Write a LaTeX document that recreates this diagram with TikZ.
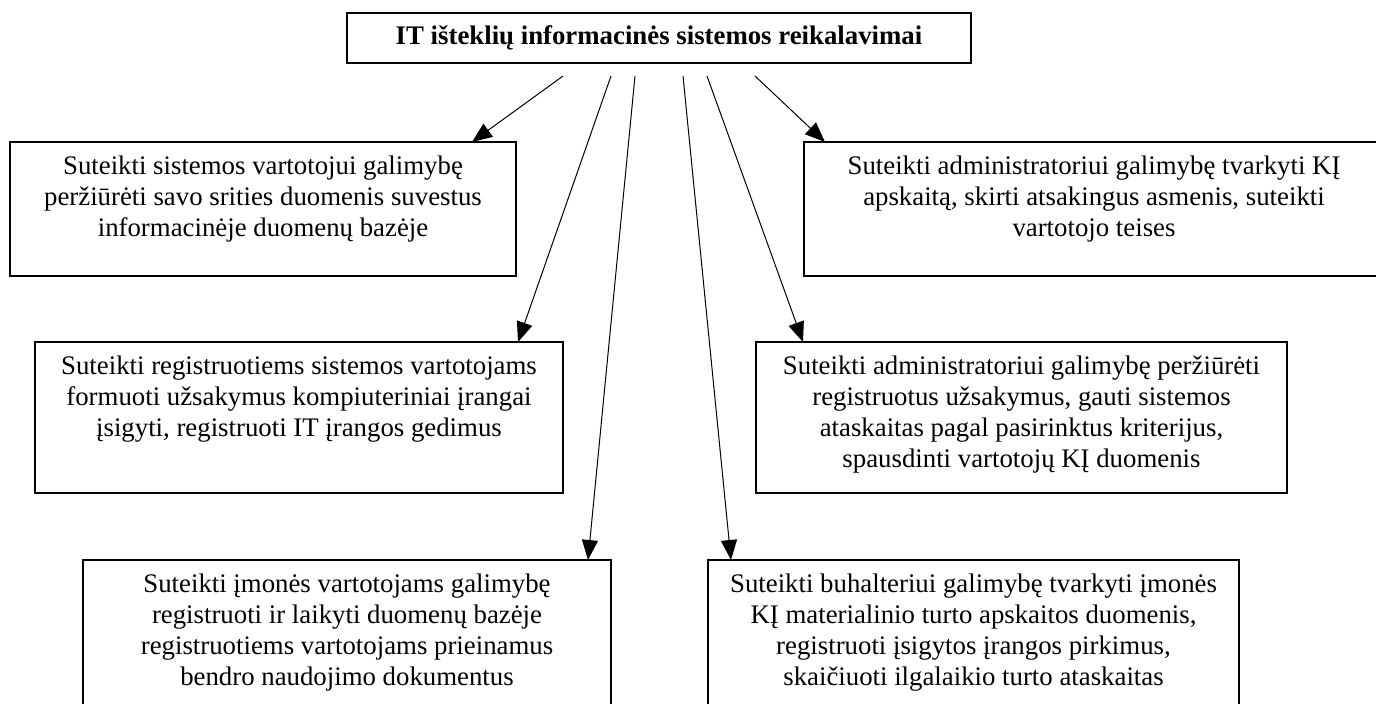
\documentclass[tikz,border=0pt]{standalone}
\usepackage{fontspec}
\setmainfont{Liberation Serif}
\usetikzlibrary{arrows.meta, positioning}

\begin{document}
\begin{tikzpicture}[
    x=0.5pt, y=-0.5pt,
    font=\fontsize{13.4}{15.5}\selectfont,
    req/.style={draw, line width=0.8pt, anchor=north west, outer sep=0pt, inner sep=0pt},
    reqtext/.style={anchor=north, yshift=-6.5pt, align=center, inner sep=0pt},
    goal/.style={draw, line width=1.1pt, align=center, inner sep=0pt, outer sep=0pt,
                 minimum width=312pt, minimum height=25pt, font=\fontsize{13.4}{15.5}\selectfont\bfseries},
    arrow/.style={-{Triangle[length=10pt, width=8pt]}, line width=0.5pt},
]
\path[use as bounding box, clip] (0,0) rectangle (1376,703);

% --- top ---
\node[goal] (title) at (659,38) {IT išteklių informacinės sistemos reikalavimai};

% --- left column ---
\node[req, minimum width=253pt, minimum height=67pt, label={[reqtext]north:{Suteikti sistemos vartotojui galimybę\\
    peržiūrėti savo srities duomenis suvestus\\ informacinėje duomenų bazėje}}] (left1) at (10,142) {};
\node[req, minimum width=264pt, minimum height=75.5pt, label={[reqtext]north:{Suteikti registruotiems sistemos vartotojams\\
    formuoti užsakymus kompiuteriniai įrangai\\ įsigyti, registruoti IT įrangos gedimus}}] (left2) at (35,342) {};
\node[req, minimum width=264pt, minimum height=85pt, label={[reqtext]north:{Suteikti įmonės vartotojams galimybę\\
    registruoti ir laikyti duomenų bazėje\\ registruotiems vartotojams prieinamus\\ bendro naudojimo dokumentus}}] (left3) at (83,560) {};

% --- right column ---
\node[req, minimum width=290pt, minimum height=67pt, label={[reqtext]north:{Suteikti administratoriui galimybę tvarkyti KĮ\\
    apskaitą, skirti atsakingus asmenis, suteikti\\ vartotojo teises}}] (right1) at (804,142) {};
\node[req, minimum width=265.5pt, minimum height=75.5pt, label={[reqtext]north:{Suteikti administratoriui galimybę peržiūrėti\\
    registruotus užsakymus, gauti sistemos\\ ataskaitas pagal pasirinktus kriterijus,\\ spausdinti vartotojų KĮ duomenis}}] (right2) at (756,342) {};
\node[req, minimum width=265.5pt, minimum height=85pt, label={[reqtext]north:{Suteikti buhalteriui galimybę tvarkyti įmonės\\
    KĮ materialinio turto apskaitos duomenis,\\ registruoti įsigytos įrangos pirkimus,\\ skaičiuoti ilgalaikio turto ataskaitas}}] (right3) at (708,560) {};

% arrows fan out from below the top box
\foreach \i/\dx in {1/-48, 2/-24, 3/-12, 4/12, 5/24, 6/48}
    \coordinate (from\i) at ([xshift=\dx pt, yshift=-6.5pt]title.south);

\draw[arrow] (from1) -- ([xshift=-22pt]left1.north east);
\draw[arrow] (from2) -- ([xshift=-22.5pt]left2.north east);
\draw[arrow] (from3) -- ([xshift=-11.5pt]left3.north east);
\draw[arrow] (from4) -- ([xshift=11.5pt]right3.north west);
\draw[arrow] (from5) -- ([xshift=23.5pt]right2.north west);
\draw[arrow] (from6) -- ([xshift=10.5pt]right1.north west);

\end{tikzpicture}
\end{document}
